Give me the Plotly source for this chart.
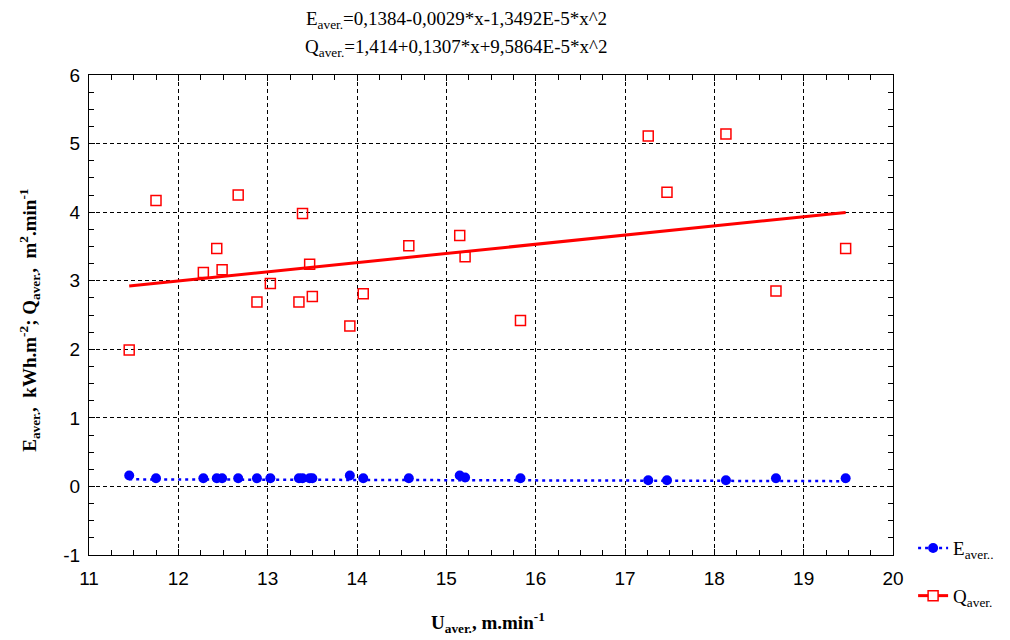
import plotly.graph_objects as go
import numpy as np

# Data
u_aver = [11.45, 11.75, 12.28, 12.43, 12.49, 12.67, 12.88, 13.03, 13.35, 13.39, 13.47, 13.50,
          13.92, 14.07, 14.58, 15.15, 15.21, 15.83, 17.26, 17.47, 18.13, 18.69, 19.47]
q_aver = [1.99, 4.17, 3.12, 3.47, 3.16, 4.25, 2.69, 2.96, 2.69, 3.98, 3.24, 2.77,
          2.34, 2.81, 3.51, 3.66, 3.35, 2.42, 5.11, 4.29, 5.14, 2.85, 3.47]
e_aver = [0.16, 0.12, 0.12, 0.12, 0.12, 0.12, 0.12, 0.12, 0.12, 0.12, 0.12, 0.12,
          0.16, 0.12, 0.12, 0.16, 0.13, 0.12, 0.09, 0.09, 0.09, 0.12, 0.12]

# Fit coefficients shown in the chart header (c0, c1, c2)
e_coef = [0.1384, -0.0029, -1.3492e-5]
q_coef = [1.414, 0.1307, 9.5864e-5]

xs = np.array(sorted(u_aver))
e_fit = e_coef[0] + e_coef[1] * xs + e_coef[2] * xs ** 2
q_fit = q_coef[0] + q_coef[1] * xs + q_coef[2] * xs ** 2

x_ticks = list(range(11, 21))
y_ticks = list(range(-1, 7))

SERIF = "Liberation Serif, Times New Roman, serif"
SANS = "Liberation Sans, Arial, sans-serif"

fig = go.Figure()

fig.add_trace(go.Scatter(
    x=u_aver, y=e_aver, mode="markers", showlegend=False,
    marker=dict(symbol="circle", size=10, color="#0000ff"),
))
fig.add_trace(go.Scatter(
    x=xs, y=e_fit, mode="lines", showlegend=False,
    line=dict(color="#0000ff", width=2.5, dash="3px,4px"),
))
fig.add_trace(go.Scatter(
    x=u_aver, y=q_aver, mode="markers", showlegend=False,
    marker=dict(symbol="square-open", size=10, color="#ff0000", line=dict(width=1.5)),
))
fig.add_trace(go.Scatter(
    x=xs, y=q_fit, mode="lines", showlegend=False,
    line=dict(color="#ff0000", width=3),
))

# legend entries
fig.add_trace(go.Scatter(
    x=[None], y=[None], mode="lines+markers", name="E<sub>aver..</sub>",
    legendgroup="e",
    marker=dict(symbol="circle", size=10, color="#0000ff"),
    line=dict(color="#0000ff", width=2.5, dash="3px,4px"),
))
fig.add_trace(go.Scatter(
    x=[None], y=[None], mode="lines+markers", name="Q<sub>aver.</sub>",
    legendgroup="q",
    marker=dict(symbol="square", size=10, color="white", line=dict(color="#ff0000", width=1.5)),
    line=dict(color="#ff0000", width=3),
))

axis_common = dict(
    showline=True, linecolor="black", linewidth=1, mirror="allticks",
    showgrid=True, gridcolor="black", gridwidth=1, griddash="4px,3px",
    zeroline=False,
    ticks="inside", ticklen=6, tickcolor="black",
    tickfont=dict(family=SANS, size=19, color="black"),
)

fig.update_xaxes(
    range=[11, 20], tickvals=x_ticks, ticktext=[str(v) for v in x_ticks],
    minor=dict(dtick=0.25, ticks="inside", ticklen=5, tickcolor="black", showgrid=False),
    ticklabelstandoff=6,
    **axis_common,
)
fig.update_yaxes(
    range=[-1, 6], tickvals=y_ticks, ticktext=[str(v) for v in y_ticks],
    minor=dict(dtick=0.25, ticks="inside", ticklen=5, tickcolor="black", showgrid=False),
    ticklabelstandoff=4,
    **axis_common,
)

fig.update_layout(
    width=1010, height=640,
    margin=dict(l=81, r=125, t=67, b=93),
    plot_bgcolor="white", paper_bgcolor="white",
    font=dict(family=SERIF, color="black"),
    legend=dict(
        x=1.025, xanchor="left", y=0.054, yanchor="top",
        font=dict(family=SERIF, size=19, color="black"),
        bgcolor="rgba(0,0,0,0)", traceorder="grouped", tracegroupgap=20,
    ),
    annotations=[
        dict(text="E<sub>aver.</sub>=0,1384-0,0029*x-1,3492E-5*x^2",
             xref="paper", yref="paper", x=0.4565, y=1.115,
             xanchor="center", yanchor="middle", showarrow=False,
             font=dict(family=SERIF, size=19, color="black")),
        dict(text="Q<sub>aver.</sub>=1,414+0,1307*x+9,5864E-5*x^2",
             xref="paper", yref="paper", x=0.4565, y=1.056,
             xanchor="center", yanchor="middle", showarrow=False,
             font=dict(family=SERIF, size=19, color="black")),
        dict(text="<b>E<sub>aver.</sub>,  kWh.m<sup>-2</sup>; Q<sub>aver.</sub>,  m<sup>2</sup>.min<sup>-1</sup></b>",
             xref="paper", yref="paper", x=-0.0734, y=0.49, textangle=-90,
             xanchor="center", yanchor="middle", showarrow=False,
             font=dict(family=SERIF, size=19, color="black")),
        dict(text="<b>U<sub>aver.</sub>, m.min<sup>-1</sup></b>",
             xref="paper", yref="paper", x=0.496, y=-0.14,
             xanchor="center", yanchor="middle", showarrow=False,
             font=dict(family=SERIF, size=19, color="black")),
    ],
)

fig.write_html("out.html")
